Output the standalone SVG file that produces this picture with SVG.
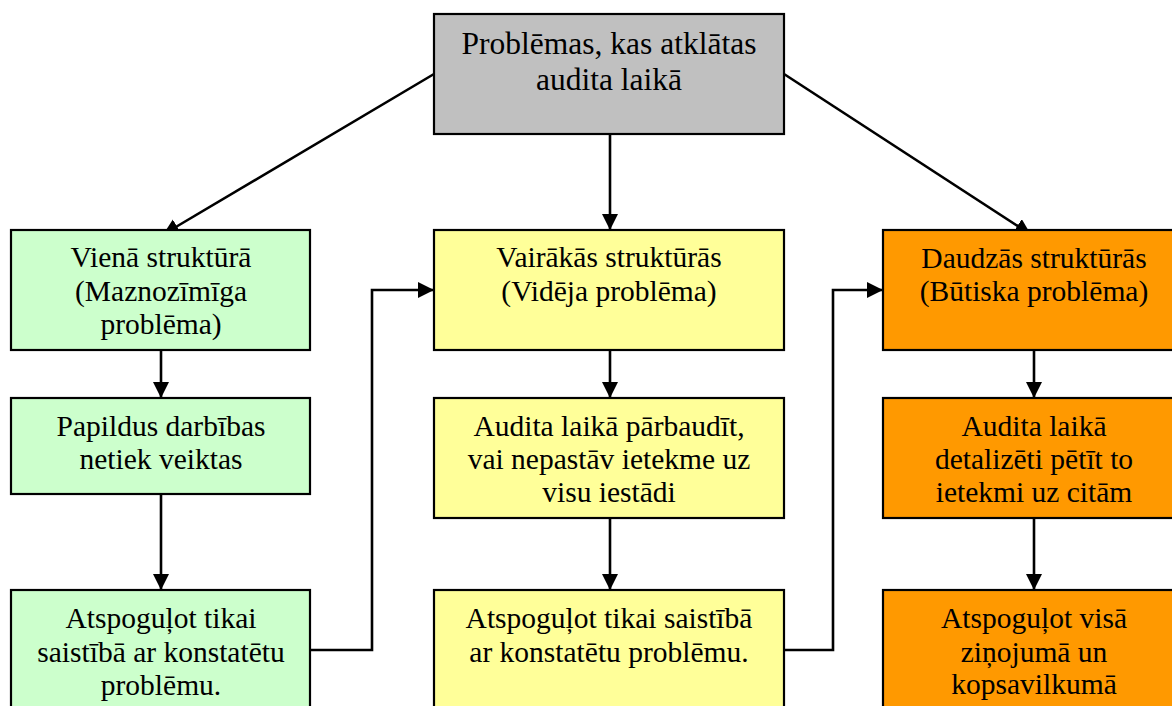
<svg xmlns="http://www.w3.org/2000/svg" width="1172" height="706" viewBox="0 0 1172 706">
  <style>
    .box { stroke: #000; stroke-width: 2.2; }
    .grey { fill: #C0C0C0; }
    .green { fill: #CCFFCC; }
    .yellow { fill: #FFFF99; }
    .orange { fill: #FF9900; }
    text { font-family: "Liberation Serif", "Times New Roman", serif; font-size: 29.5px; fill: #000; text-anchor: middle; }
    .title { font-size: 31.5px; }
    .link { fill: none; stroke: #000; stroke-width: 2.6; marker-end: url(#arrow); }
  </style>
  <defs>
    <marker id="arrow" markerUnits="userSpaceOnUse" markerWidth="18" markerHeight="18" refX="15" refY="8" orient="auto">
      <path d="M0,0 L16,8 L0,16 z" fill="#000"/>
    </marker>
  </defs>

  <rect width="1172" height="706" fill="#fff"/>

  <!-- connectors -->
  <g id="connectors">
    <line class="link" x1="434" y1="74" x2="164" y2="234"/>
    <line class="link" x1="610" y1="134" x2="610" y2="229"/>
    <line class="link" x1="784" y1="74" x2="1030" y2="234"/>
    <line class="link" x1="161" y1="350" x2="161" y2="397"/>
    <line class="link" x1="161" y1="494" x2="161" y2="589"/>
    <line class="link" x1="610" y1="350" x2="610" y2="397"/>
    <line class="link" x1="610" y1="518" x2="610" y2="589"/>
    <line class="link" x1="1034" y1="350" x2="1034" y2="397"/>
    <line class="link" x1="1034" y1="518" x2="1034" y2="589"/>
    <polyline class="link" points="310,650 372,650 372,290 433,290"/>
    <polyline class="link" points="784,650 833,650 833,290 882,290"/>
  </g>

  <!-- root -->
  <g id="node-root">
    <rect class="box grey" x="434" y="14" width="350" height="120"/>
    <text class="title" x="609" y="54">Problēmas, kas atklātas</text>
    <text class="title" x="609" y="90">audita laikā</text>
  </g>

  <!-- left column -->
  <g id="node-single">
    <rect class="box green" x="11" y="230" width="299" height="120"/>
    <text x="161" y="267">Vienā struktūrā</text>
    <text x="161" y="300.5">(Maznozīmīga</text>
    <text x="161" y="334">problēma)</text>
  </g>
  <g id="node-single-action">
    <rect class="box green" x="11" y="398" width="299" height="96"/>
    <text x="161" y="436">Papildus darbības</text>
    <text x="161" y="469">netiek veiktas</text>
  </g>
  <g id="node-single-report">
    <rect class="box green" x="11" y="590" width="299" height="130"/>
    <text x="161" y="628">Atspoguļot tikai</text>
    <text x="161" y="661.5">saistībā ar konstatētu</text>
    <text x="161" y="695">problēmu.</text>
  </g>

  <!-- middle column -->
  <g id="node-several">
    <rect class="box yellow" x="434" y="230" width="350" height="120"/>
    <text x="609" y="267">Vairākās struktūrās</text>
    <text x="609" y="301">(Vidēja problēma)</text>
  </g>
  <g id="node-several-action">
    <rect class="box yellow" x="434" y="398" width="350" height="120"/>
    <text x="609" y="436">Audita laikā pārbaudīt,</text>
    <text x="609" y="469">vai nepastāv ietekme uz</text>
    <text x="609" y="502">visu iestādi</text>
  </g>
  <g id="node-several-report">
    <rect class="box yellow" x="434" y="590" width="350" height="130"/>
    <text x="609" y="628">Atspoguļot tikai saistībā</text>
    <text x="609" y="662">ar konstatētu problēmu.</text>
  </g>

  <!-- right column -->
  <g id="node-many">
    <rect class="box orange" x="883" y="230" width="302" height="120"/>
    <text x="1034" y="267.5">Daudzās struktūrās</text>
    <text x="1034" y="301">(Būtiska problēma)</text>
  </g>
  <g id="node-many-action">
    <rect class="box orange" x="883" y="398" width="302" height="120"/>
    <text x="1034" y="436">Audita laikā</text>
    <text x="1034" y="469">detalizēti pētīt to</text>
    <text x="1034" y="502">ietekmi uz citām</text>
  </g>
  <g id="node-many-report">
    <rect class="box orange" x="883" y="590" width="302" height="130"/>
    <text x="1034" y="628">Atspoguļot visā</text>
    <text x="1034" y="661.5">ziņojumā un</text>
    <text x="1034" y="694">kopsavilkumā</text>
  </g>
</svg>
